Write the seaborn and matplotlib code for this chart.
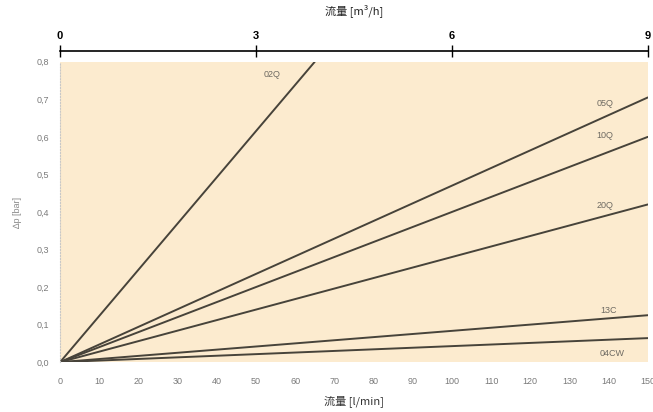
import pandas as pd
import matplotlib
matplotlib.use("Agg")
import matplotlib.pyplot as plt
import seaborn as sns

# curves: all start at the origin, values read at the end point
series = ["02Q", "05Q", "10Q", "20Q", "13C", "04CW"]
end_flow = [65, 150, 150, 150, 150, 150]          # l/min
end_dp = [0.80, 0.705, 0.60, 0.42, 0.125, 0.064]   # bar

# label positions for each curve
label_x = [54, 139, 139, 139, 140, 141]
label_y = [0.765, 0.69, 0.605, 0.418, 0.137, 0.024]

x_ticks = list(range(0, 151, 10))
y_ticks = [0.0, 0.1, 0.2, 0.3, 0.4, 0.5, 0.6, 0.7, 0.8]
top_ticks = [0, 3, 6, 9]

rows = []
for name, fx, dp in zip(series, end_flow, end_dp):
    rows.append({"curve": name, "flow": 0, "dp": 0.0})
    rows.append({"curve": name, "flow": fx, "dp": dp})
df = pd.DataFrame(rows)

sns.set_theme(style="white")
plt.rcParams["font.family"] = ["Liberation Sans", "Noto Sans CJK JP", "DejaVu Sans"]

fig = plt.figure(figsize=(6.53, 4.12), dpi=100)
ax = fig.add_axes([0.092, 0.121, 0.900, 0.729])
ax.set_facecolor("#fcebcf")

sns.lineplot(data=df, x="flow", y="dp", units="curve", estimator=None,
             color="#47433a", linewidth=1.4, ax=ax, legend=False)

for name, lx, ly in zip(series, label_x, label_y):
    ax.text(lx, ly, name, fontsize=6.5, color="#6e6a62", ha="center", va="center")

ax.set_xlim(0, 150)
ax.set_ylim(0, 0.8)
ax.set_xticks(x_ticks)
ax.set_yticks(y_ticks)
ax.set_yticklabels([f"{v:.1f}".replace(".", ",") for v in y_ticks])
ax.tick_params(axis="both", labelsize=6.5, colors="#8a8a8a", length=2, width=0.6,
               direction="out", pad=6)
ax.tick_params(axis="x", labelcolor="#7a7a7a", pad=9)
ax.tick_params(axis="y", labelcolor="#7a7a7a")
for s in ["top", "right", "bottom"]:
    ax.spines[s].set_visible(False)
ax.spines["left"].set_color("#c8c8c8")
ax.spines["left"].set_linestyle(":")
ax.spines["left"].set_linewidth(0.8)

ax.set_xlabel("流量 [l/min]", fontsize=8, color="#333333", labelpad=6,
              family=["Noto Sans CJK JP", "DejaVu Sans"])
ax.set_ylabel("∆p [bar]", fontsize=6.5, color="#8a8a8a", labelpad=10)

# second flow scale on top, m3/h
top = ax.secondary_xaxis("top", functions=(lambda q: q * 0.06, lambda q: q / 0.06))
top.set_xticks(top_ticks)
top.spines["top"].set_position(("outward", 8))
top.spines["top"].set_linewidth(1.2)
top.spines["top"].set_color("black")
top.tick_params(axis="x", direction="inout", length=8, width=1, labelsize=8,
                colors="black", pad=3)
for t in top.get_xticklabels():
    t.set_fontweight("bold")
top.set_xlabel("流量 [m³/h]", fontsize=8, color="#222222", labelpad=12,
               family=["Noto Sans CJK JP", "DejaVu Sans"])

fig.savefig("out.png", dpi=100, facecolor="white")
